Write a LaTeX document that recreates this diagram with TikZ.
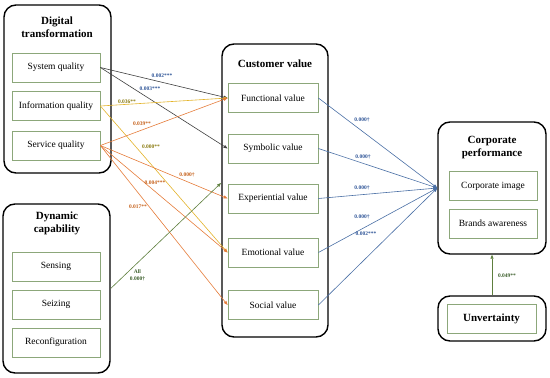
\documentclass[tikz,border=0pt]{standalone}
\usepackage{fontspec}
\setmainfont{Liberation Serif}
\usetikzlibrary{arrows.meta,positioning}
\definecolor{boxgreen} {HTML}{8CA77A}
\definecolor{lineGray} {HTML}{3F3F3F}
\definecolor{lineGold} {HTML}{E3B32A}
\definecolor{lineOrg}  {HTML}{E57C3A}
\definecolor{lineBlue} {HTML}{4A6FA5}
\definecolor{lineGrn}  {HTML}{5E7F3E}
\definecolor{labBlue}  {HTML}{2F5597}
\definecolor{labOlive} {HTML}{8A7A10}
\definecolor{labOrg}   {HTML}{C5601A}
\definecolor{labGrn}   {HTML}{3B5E2B}

\begin{document}
\begin{tikzpicture}[
  x=1pt, y=-1pt,
  grp/.style={rectangle, rounded corners=12pt, draw=black, line width=1.4pt, inner sep=0pt},
  item/.style={rectangle, draw=boxgreen, line width=0.8pt, fill=white, minimum width=88pt,
               minimum height=29pt, inner sep=0pt, font=\fontsize{9.5}{11}\selectfont},
  ttl/.style={font=\fontsize{11}{13}\selectfont\bfseries, align=center, inner sep=0pt},
  lab/.style={font=\fontsize{5.5}{6}\selectfont\bfseries, inner sep=0pt, align=center},
  link/.style={->, line width=0.6pt},
  >={Triangle[length=4pt,width=3pt]}
]
\useasboundingbox (0,0) rectangle (550,378);
% group frames
\node[grp, minimum width=107pt, minimum height=168pt] (dt) at (57.5,89) {};
\node[grp, minimum width=107pt, minimum height=169pt] (dc) at (56.5,288.5) {};
\node[grp, minimum width=106pt, minimum height=293pt] (cv) at (275,190.5) {};
\node[grp, minimum width=108pt, minimum height=132pt] (cp) at (492,188) {};
\node[grp, minimum width=108pt, minimum height=45pt] (un) at (492,318.5) {};
% titles
\node[ttl] (dtT) at (57,27) {Digital\\transformation};
\node[ttl] (dcT) at (57,223.5) {Dynamic\\capability};
\node[ttl] (cvT) at (275,64) {Customer value};
\node[ttl] (cpT) at (492,147.5) {Corporate\\performance};
% items
\node[item] (sysq) at (56,67.5) {System quality};
\node[item] (infq) at (56,106) {Information quality};
\node[item] (servq) at (56,145.5) {Service quality};
\node[item] (sens) at (56,266.5) {Sensing};
\node[item] (seiz) at (56,304.5) {Seizing};
\node[item] (reconf) at (56,342.5) {Reconfiguration};
\node[item, minimum width=90pt] (func) at (273,98) {Functional value};
\node[item, minimum width=90pt] (symb) at (273,148.5) {Symbolic value};
\node[item, minimum width=90pt] (expe) at (273,198.5) {Experiential value};
\node[item, minimum width=90pt] (emot) at (273,252.5) {Emotional value};
\node[item, minimum width=90pt] (soci) at (273,305) {Social value};
\node[item] (cimg) at (493,186) {Corporate image};
\node[item] (brand) at (493,223.5) {Brands awareness};
\node[item, minimum width=89pt, font=\fontsize{11}{13}\selectfont\bfseries] (unc) at (491.5,318.5) {Unvertainty};
\coordinate (allEnd) at (221,183);
% paths
\draw[link, lineGray] (sysq.east) -- (func.west);
\draw[link, lineGray] (sysq.east) -- (symb.west);
\draw[link, lineGold] (infq.east) -- (func.west);
\draw[link, lineGold] (infq.east) -- (emot.west);
\foreach \t in {func,expe,emot,soci}{\draw[link, lineOrg] (servq.east) -- (\t.west);}
\draw[link, lineGrn] (dc.east) -- (allEnd);
\foreach \s in {func,symb,expe,emot,soci}{\draw[link, lineBlue] (\s.east) -- (cp.west);}
\draw[link, lineGrn] (un.north) -- (cp.south);
% coefficients
\node[lab, labBlue] (l1) at (162,76) {0.002***};
\node[lab, labBlue] (l2) at (150,89) {0.003***};
\node[lab, labOlive] (l3) at (127,101.5) {0.036**};
\node[lab, labOrg] (l4) at (142,123.5) {0.039**};
\node[lab, labOlive] (l5) at (151,146.5) {0.000**};
\node[lab, labOrg] (l6) at (187,175) {0.000†};
\node[lab, labOrg] (l7) at (155,183) {0.004***};
\node[lab, labOrg] (l8) at (138,207) {0.017**};
\node[lab, labGrn] (l9) at (137.5,275.5) {All\\[1pt]0.000†};
\node[lab, labBlue] (r1) at (362,120) {0.000†};
\node[lab, labBlue] (r2) at (363,157) {0.000†};
\node[lab, labBlue] (r3) at (362,188) {0.000†};
\node[lab, labBlue] (r4) at (362,217) {0.000†};
\node[lab, labBlue] (r5) at (366,234) {0.002***};
\node[lab, labGrn] (u1) at (507,276) {0.049**};
\end{tikzpicture}
\end{document}
